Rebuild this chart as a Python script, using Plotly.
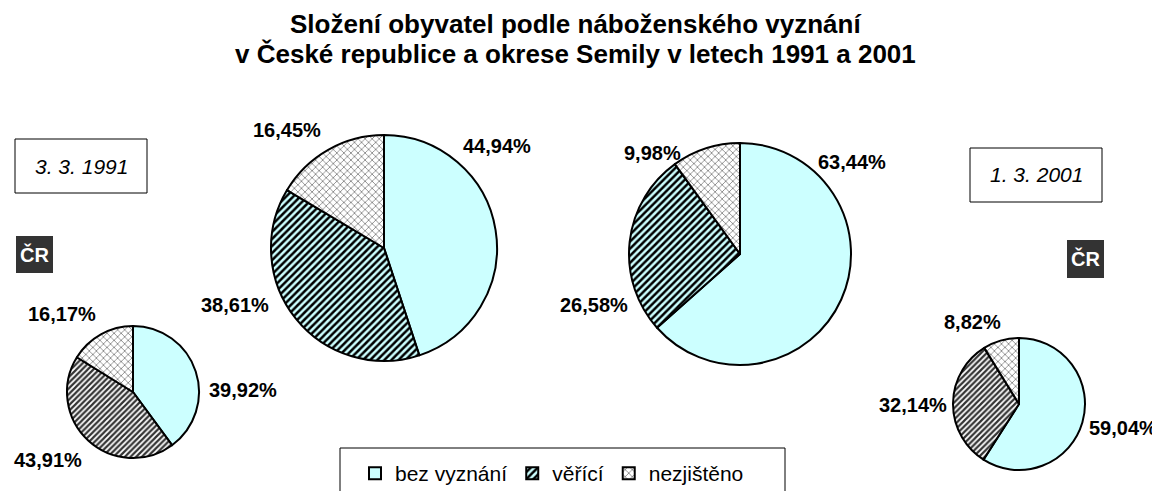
import plotly.graph_objects as go

# page body has an 8px margin; the figure is sized to fit the 1160x491 window
OFF = 8
W, H = 1152, 483

# ---- data ----
categories = ["bez vyznání", "věřící", "nezjištěno"]
cr_1991 = [39.92, 43.91, 16.17]
semily_1991 = [44.94, 38.61, 16.45]
semily_2001 = [63.44, 26.58, 9.98]
cr_2001 = [59.04, 32.14, 8.82]

title_lines = ["Složení obyvatel podle náboženského vyznání",
               "v České republice a okrese Semily v letech 1991 a 2001"]
date_labels = ["3. 3. 1991", "1. 3. 2001"]
region_label = "ČR"

# ---- layout (pixel geometry in window coordinates) ----
pie_series = [cr_1991, semily_1991, semily_2001, cr_2001]
pie_is_cr = [True, False, False, True]
pie_centers = [(133, 392), (384, 248), (740, 254), (1019, 404)]
pie_radius = [66, 113, 111, 66]
label_pos = [
    [(243, 390), (48, 460), (62, 314)],
    [(497, 146), (235, 305), (287, 130)],
    [(852, 162), (594, 305), (652, 153)],
    [(1123, 428), (913, 405), (972, 322)],
]
title_y = [24, 54]
title_cx = 575

FONT = "Liberation Sans, Arial, sans-serif"
CYAN = "#CCFFFF"


def px(x):
    return (x - OFF) / W


def py(y):
    return 1 - (y - OFF) / H


def fills(is_cr):
    hatch_fg = "#333333" if is_cr else "black"
    hatch_bg = "white" if is_cr else CYAN
    return dict(
        colors=[CYAN, hatch_bg, "white"],
        pattern=dict(
            shape=["", "/", "x"],
            fgcolor=["black", hatch_fg, "#666666"],
            bgcolor=[CYAN, hatch_bg, "white"],
            size=[6, 4 if is_cr else 5, 5],
            solidity=[0.3, 0.55 if is_cr else 0.5, 0.25],
            fillmode="replace",
        ),
        line=dict(color="black", width=2),
    )


fig = go.Figure()
for i, (vals, (cx, cy), r) in enumerate(zip(pie_series, pie_centers, pie_radius)):
    fig.add_trace(go.Pie(
        labels=categories,
        values=vals,
        sort=False,
        direction="clockwise",
        rotation=0,
        textinfo="none",
        marker=fills(pie_is_cr[i]),
        domain=dict(x=[px(cx - r), px(cx + r)], y=[py(cy + r), py(cy - r)]),
        showlegend=(i == 1),
        hovertemplate="%{label}: %{value:.2f}%<extra></extra>",
    ))

annotations = []
for line, ty in zip(title_lines, title_y):
    annotations.append(dict(
        x=px(title_cx), y=py(ty), xref="paper", yref="paper",
        text="<b>" + line + "</b>", showarrow=False,
        xanchor="center", yanchor="middle",
        font=dict(family=FONT, size=26, color="black"),
    ))

for vals, poss in zip(pie_series, label_pos):
    for v, (lx, ly) in zip(vals, poss):
        annotations.append(dict(
            x=px(lx), y=py(ly), xref="paper", yref="paper",
            text="<b>" + f"{v:.2f}".replace(".", ",") + "%</b>",
            showarrow=False, xanchor="center", yanchor="middle",
            font=dict(family=FONT, size=20, color="black"),
        ))

# date boxes and ČR tags
date_boxes = [(15, 139, 147, 193), (970, 148, 1102, 202)]
region_boxes = [(16, 236, 53, 273), (1067, 240, 1104, 278)]
shapes = []
for (x0, y0, x1, y1), t in zip(date_boxes, date_labels):
    shapes.append(dict(type="rect", xref="paper", yref="paper",
                       x0=px(x0), x1=px(x1), y0=py(y1), y1=py(y0),
                       line=dict(color="black", width=1), fillcolor="white"))
    annotations.append(dict(x=px((x0 + x1) / 2), y=py((y0 + y1) / 2), xref="paper", yref="paper",
                            text="<i>" + t + "</i>", showarrow=False,
                            xanchor="center", yanchor="middle",
                            font=dict(family=FONT, size=21, color="black")))
for (x0, y0, x1, y1) in region_boxes:
    shapes.append(dict(type="rect", xref="paper", yref="paper",
                       x0=px(x0), x1=px(x1), y0=py(y1), y1=py(y0),
                       line=dict(color="#333333", width=0), fillcolor="#333333"))
    annotations.append(dict(x=px((x0 + x1) / 2), y=py((y0 + y1) / 2), xref="paper", yref="paper",
                            text="<b>" + region_label + "</b>", showarrow=False,
                            xanchor="center", yanchor="middle",
                            font=dict(family=FONT, size=20, color="white")))

# legend frame (extends past the bottom edge, as in the original)
shapes.append(dict(type="rect", xref="paper", yref="paper",
                   x0=px(340), x1=px(785), y0=py(520), y1=py(448),
                   line=dict(color="black", width=1), fillcolor="rgba(0,0,0,0)"))

fig.update_layout(
    width=W, height=H,
    margin=dict(l=0, r=0, t=0, b=0, autoexpand=False),
    paper_bgcolor="white", plot_bgcolor="white",
    separators=", ",
    font=dict(family=FONT, color="black"),
    legend=dict(orientation="h", x=px(355), xanchor="left", y=py(453), yanchor="top",
                font=dict(family=FONT, size=21, color="black"),
                bgcolor="rgba(0,0,0,0)", borderwidth=0, traceorder="normal"),
    shapes=shapes,
    annotations=annotations,
)

fig.write_html("out.html")
